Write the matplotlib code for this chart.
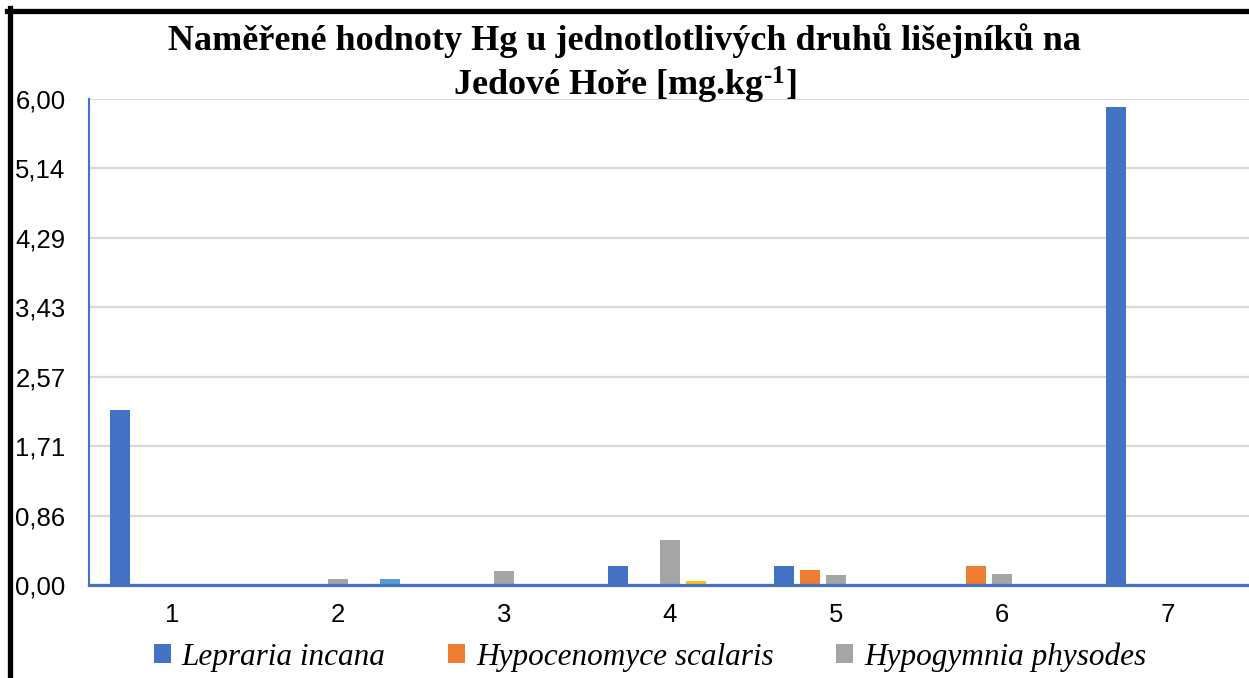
import numpy as np
import matplotlib
matplotlib.use("Agg")
import matplotlib.pyplot as plt
from matplotlib.lines import Line2D

plt.rcParams['mathtext.fontset'] = 'custom'
plt.rcParams['mathtext.rm'] = 'Liberation Serif:bold'
plt.rcParams['mathtext.it'] = 'Liberation Serif:bold'
plt.rcParams['mathtext.bf'] = 'Liberation Serif:bold'

# data
categories = ['1', '2', '3', '4', '5', '6', '7']
lepraria = [2.16, 0, 0, 0.23, 0.23, 0, 5.90]
hypocenomyce = [0, 0, 0, 0, 0.19, 0.23, 0]
hypogymnia = [0, 0.08, 0.17, 0.55, 0.12, 0.13, 0]
series4 = [0, 0, 0, 0.05, 0, 0, 0]
series5 = [0, 0.08, 0, 0, 0, 0, 0]

series_names = ['Lepraria incana', 'Hypocenomyce scalaris',
                'Hypogymnia physodes', None, None]
colors = ['#4472C4', '#ED7D31', '#A5A5A5', '#FFC000', '#5B9BD5']
all_series = [lepraria, hypocenomyce, hypogymnia, series4, series5]

ymax = 6.0
yticks = [k * ymax / 7 for k in range(8)]

W, H = 1249, 678
fig = plt.figure(figsize=(W / 100, H / 100), dpi=100)
ax = fig.add_axes([89 / W, (H - 585) / H, 1162 / W, (585 - 99) / H])

x = np.arange(1, len(categories) + 1)
slot = 0.157
width = 0.122
handles = []
for i, (vals, col) in enumerate(zip(all_series, colors)):
    b = ax.bar(x + (i - 2) * slot, vals, width, color=col, linewidth=0,
               zorder=3)
    handles.append(b)

ax.set_xlim(0.5, 7.5)
ax.set_ylim(0, ymax)
ax.set_yticks(yticks)
ax.set_yticklabels([('%.2f' % v).replace('.', ',') for v in yticks],
                   fontsize=18.5, family='Liberation Sans')
ax.set_xticks(x)
ax.set_xticklabels(categories, fontsize=18.5, family='Liberation Sans')
ax.tick_params(axis='y', length=0, pad=17)
ax.tick_params(axis='x', length=0, pad=13)
ax.grid(axis='y', color='#D9D9D9', linewidth=1.6, zorder=0)
ax.set_axisbelow(True)

for s in ['top', 'right']:
    ax.spines[s].set_visible(False)
ax.spines['left'].set_color('#4472C4')
ax.spines['left'].set_linewidth(1.5)
ax.spines['bottom'].set_color('#4472C4')
ax.spines['bottom'].set_linewidth(2.3)
ax.spines['bottom'].set_zorder(4)

fig.text(0.5, 1 - 41 / H,
         'Naměřené hodnoty Hg u jednotlotlivých druhů lišejníků na',
         ha='center', va='center', fontsize=26, fontweight='bold',
         family='Liberation Serif')
fig.text(0.5, 1 - 85 / H, r'Jedové Hoře [mg.kg$^{\text{-1}}$]',
         ha='center', va='center', fontsize=26, fontweight='bold',
         family='Liberation Serif')

fig.legend(handles[:3], series_names[:3], loc='center',
           bbox_to_anchor=(650 / W, (H - 657) / H), ncol=3, frameon=False,
           prop={'family': 'Liberation Serif', 'style': 'italic', 'size': 22.5},
           handlelength=0.55, handleheight=0.55, handletextpad=0.35,
           columnspacing=2.0)

# black frame on the left and top edge
fig.add_artist(Line2D([9.5 / W, 9.5 / W], [0, 1 - 8 / H],
                      transform=fig.transFigure, color='black', linewidth=3.8))
fig.add_artist(Line2D([7 / W, 1], [1 - 10.5 / H, 1 - 10.5 / H],
                      transform=fig.transFigure, color='black', linewidth=3.8))

fig.savefig('out.png', dpi=100)
